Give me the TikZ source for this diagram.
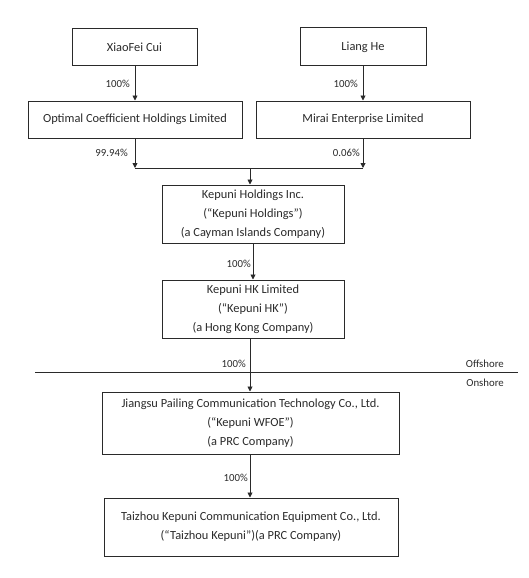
\documentclass[tikz,border=0pt]{standalone}
\usepackage{fontspec}
\setmainfont{Carlito}
\usetikzlibrary{arrows.meta}
\definecolor{ink}{HTML}{2A2A2A}
\begin{document}
\begin{tikzpicture}[x=1pt,y=-1pt,
  box/.style={draw=ink,line width=1pt,inner sep=0pt,align=center,text=ink,
    font=\fontsize{12.4}{19}\selectfont},
  conn/.style={draw=ink,line width=0.9pt,-{Triangle[length=5pt,width=5pt]}},
  line/.style={draw=ink,line width=0.9pt},
  pct/.style={text=ink,font=\fontsize{10.8}{12}\selectfont,inner sep=0pt,anchor=east},
  side/.style={text=ink,font=\fontsize{10.8}{12}\selectfont,inner sep=0pt,anchor=east}]
\useasboundingbox (0,0) rectangle (528,578);
\node[box,minimum width=125pt,minimum height=37pt] (xiao) at (134.5,47.5) {XiaoFei Cui};
\node[box,minimum width=126pt,minimum height=38pt] (liang) at (363,47) {Liang He};
\node[box,minimum width=214pt,minimum height=37pt] (opt) at (135,119.5) {Optimal Coefficient Holdings Limited};
\node[box,minimum width=214pt,minimum height=37pt] (mirai) at (363,119.5) {Mirai Enterprise Limited};
\node[box,minimum width=182pt,minimum height=58pt] (kh) at (253,214) {Kepuni Holdings Inc.\\(“Kepuni Holdings”)\\(a Cayman Islands Company)};
\node[box,minimum width=182pt,minimum height=58pt] (khk) at (253,309) {Kepuni HK Limited\\(“Kepuni HK”)\\(a Hong Kong Company)};
\node[box,minimum width=297pt,minimum height=62pt] (wfoe) at (250.5,423) {Jiangsu Pailing Communication Technology Co., Ltd.\\(“Kepuni WFOE”)\\(a PRC Company)};
\node[box,minimum width=294pt,minimum height=58pt] (tz) at (251,527) {Taizhou Kepuni Communication Equipment Co., Ltd.\\(“Taizhou Kepuni”)(a PRC Company)};
\coordinate (jl) at (135,168);
\coordinate (jr) at (363,168);
\coordinate (jm) at (250,168);
\coordinate (sl) at (35,372);
\coordinate (sr) at (518,372);
\draw[conn] (xiao.south -| jl) -- (opt.north -| jl);
\node[pct] at (130,84) {100\%};
\draw[conn] (liang.south -| jr) -- (mirai.north -| jr);
\node[pct] at (358,84) {100\%};
\draw[conn] (opt.south -| jl) -- (jl);
\node[pct] at (128,153) {99.94\%};
\draw[conn] (mirai.south -| jr) -- (jr);
\node[pct] at (360,153) {0.06\%};
\draw[line] (jl) -- (jr);
\draw[conn] (jm) -- (kh.north -| jm);
\draw[conn] (kh) -- (khk);
\node[pct] at (251,264) {100\%};
\draw[line] (sl) -- (sr);
\node[side] at (504,364) {Offshore};
\node[side] at (504,383) {Onshore};
\draw[conn] (khk.south -| jm) -- (wfoe.north -| jm);
\node[pct] at (246,364) {100\%};
\draw[conn] (wfoe.south -| jm) -- (tz.north -| jm);
\node[pct] at (248,478) {100\%};
\end{tikzpicture}
\end{document}
